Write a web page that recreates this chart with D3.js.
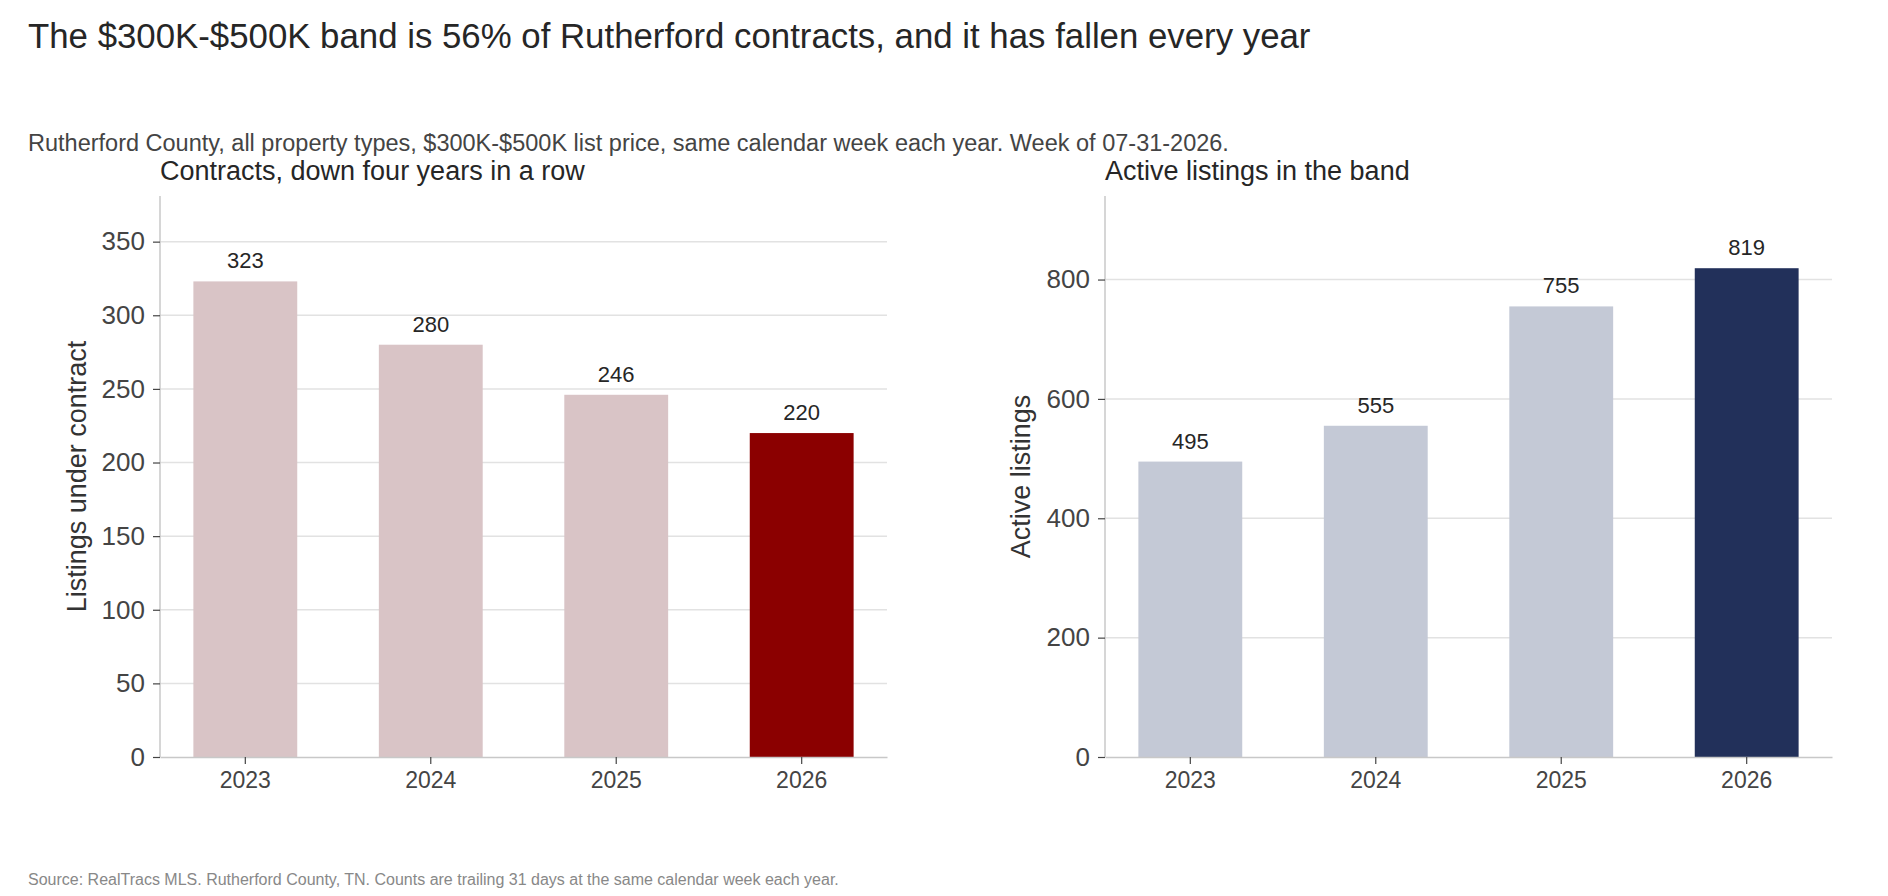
<!DOCTYPE html>
<html>
<head>
<meta charset="utf-8">
<script src="https://cdn.jsdelivr.net/npm/d3@7"></script>
<style>
  body { margin: 0; background: #fff; }
  text { font-family: "Liberation Sans", Arial, sans-serif; }
</style>
</head>
<body>
<svg id="chart" width="1888" height="896"></svg>
<script>
// data
var years = ["2023", "2024", "2025", "2026"];
var contracts = [323, 280, 246, 220];
var active = [495, 555, 755, 819];
var contractTicks = [0, 50, 100, 150, 200, 250, 300, 350];
var activeTicks = [0, 200, 400, 600, 800];

var svg = d3.select("#chart");

svg.append("text")
	.attr("x", 28).attr("y", 48)
	.style("font-size", "34.8px").attr("fill", "#262626")
	.text("The $300K-$500K band is 56% of Rutherford contracts, and it has fallen every year");

svg.append("text")
	.attr("x", 28).attr("y", 151)
	.style("font-size", "23.5px").attr("fill", "#444")
	.text("Rutherford County, all property types, $300K-$500K list price, same calendar week each year. Week of 07-31-2026.");

svg.append("text")
	.attr("x", 28).attr("y", 885)
	.style("font-size", "16px").attr("fill", "#888")
	.text("Source: RealTracs MLS. Rutherford County, TN. Counts are trailing 31 days at the same calendar week each year.");

function panel(opt) {
	var left = opt.left, right = opt.left + 727,
		top = 196, bottom = 757;

	var g = svg.append("g");

	var x = d3.scaleBand()
		.domain(years)
		.range([left, right])
		.paddingInner(0.44)
		.paddingOuter(0.18);

	var y = d3.scaleLinear()
		.domain([0, opt.ymax])
		.range([bottom, top]);

	// grid
	g.selectAll(".grid")
		.data(opt.ticks.filter(d => d > 0))
		.enter().append("line")
		.attr("x1", left).attr("x2", right)
		.attr("y1", d => y(d)).attr("y2", d => y(d))
		.attr("stroke", "#e2e2e2").attr("stroke-width", 1.5);

	var data = years.map((yr, i) => ({year: yr, value: opt.values[i]}));

	g.selectAll(".bar")
		.data(data)
		.enter().append("rect")
		.attr("class", "bar")
		.attr("x", d => x(d.year))
		.attr("width", x.bandwidth())
		.attr("y", d => y(d.value))
		.attr("height", d => bottom - y(d.value))
		.attr("fill", (d, i) => i == years.length - 1 ? opt.hi : opt.base);

	g.selectAll(".labels")
		.data(data)
		.enter().append("text")
		.attr("x", d => x(d.year) + x.bandwidth() / 2)
		.attr("y", d => y(d.value) - 13)
		.attr("text-anchor", "middle")
		.style("font-size", "22px").attr("fill", "#262626")
		.text(d => d.value);

	var yAxis = g.append("g")
		.attr("transform", `translate(${left},0)`)
		.call(d3.axisLeft(y).tickValues(opt.ticks).tickSize(7).tickPadding(8));
	yAxis.select(".domain").attr("stroke", "#c8c8c8").attr("stroke-width", 1.5)
		.attr("d", `M0,${bottom}V${top}`);
	yAxis.selectAll(".tick line").attr("stroke", "#444").attr("stroke-width", 1.2);
	yAxis.selectAll(".tick text").style("font-size", "26px").attr("fill", "#444");

	var xAxis = g.append("g")
		.attr("transform", `translate(0,${bottom})`)
		.call(d3.axisBottom(x).tickSize(7).tickPadding(8).tickSizeOuter(0));
	xAxis.select(".domain").attr("stroke", "#c8c8c8").attr("stroke-width", 1.5);
	xAxis.selectAll(".tick line").attr("stroke", "#444").attr("stroke-width", 1.2);
	xAxis.selectAll(".tick text").style("font-size", "23px").attr("fill", "#444");

	g.append("text")
		.attr("transform", `translate(${opt.labelX},${(top + bottom) / 2}) rotate(-90)`)
		.attr("text-anchor", "middle")
		.attr("dy", "0.35em")
		.style("font-size", "27px").attr("fill", "#333")
		.text(opt.ylabel);

	g.append("text")
		.attr("x", left).attr("y", 180)
		.style("font-size", "27px").attr("fill", "#262626")
		.text(opt.title);
}

panel({left: 160, values: contracts, ymax: 381, ticks: contractTicks,
	base: "#d9c4c6", hi: "#8b0000", labelX: 77,
	ylabel: "Listings under contract", title: "Contracts, down four years in a row"});

panel({left: 1105, values: active, ymax: 940, ticks: activeTicks,
	base: "#c4c9d6", hi: "#22305a", labelX: 1021,
	ylabel: "Active listings", title: "Active listings in the band"});
</script>
</body>
</html>
